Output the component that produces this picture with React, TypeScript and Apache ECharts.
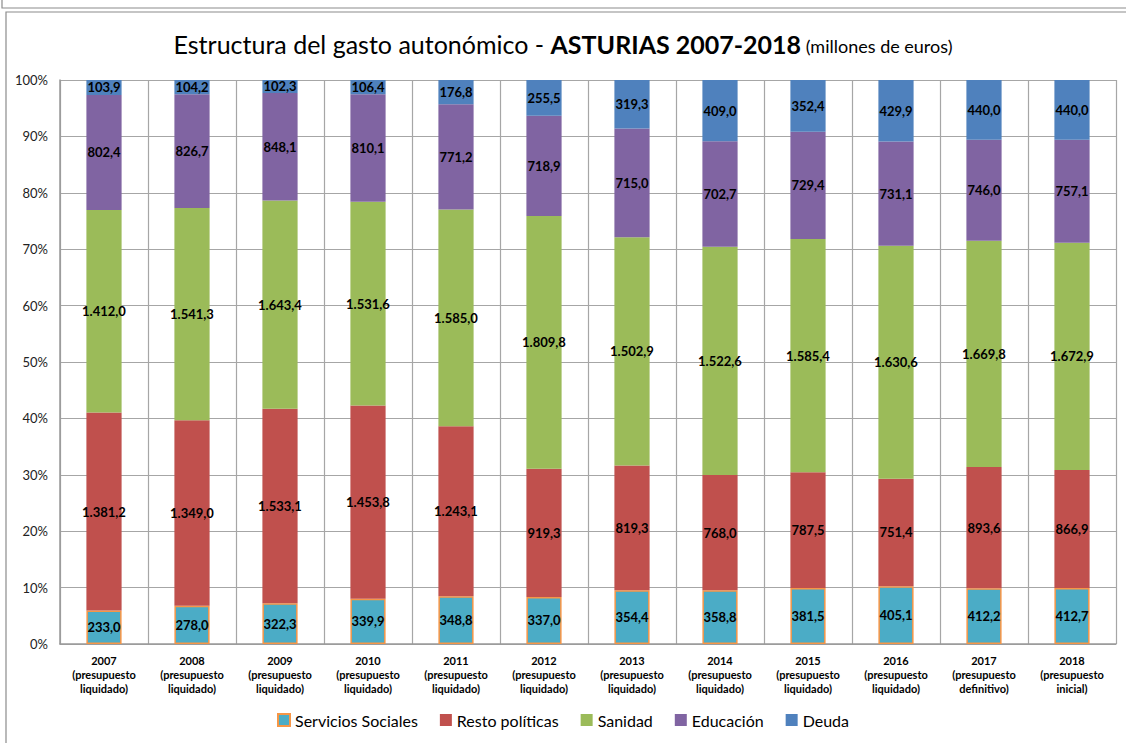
import React, { useEffect, useRef } from "react";
import * as echarts from "echarts";

const categories = [
  "2007\n(presupuesto\nliquidado)",
  "2008\n(presupuesto\nliquidado)",
  "2009\n(presupuesto\nliquidado)",
  "2010\n(presupuesto\nliquidado)",
  "2011\n(presupuesto\nliquidado)",
  "2012\n(presupuesto\nliquidado)",
  "2013\n(presupuesto\nliquidado)",
  "2014\n(presupuesto\nliquidado)",
  "2015\n(presupuesto\nliquidado)",
  "2016\n(presupuesto\nliquidado)",
  "2017\n(presupuesto\ndefinitivo)",
  "2018\n(presupuesto\ninicial)",
];

const serviciosSociales = [233.0, 278.0, 322.3, 339.9, 348.8, 337.0, 354.4, 358.8, 381.5, 405.1, 412.2, 412.7];
const restoPoliticas = [1381.2, 1349.0, 1533.1, 1453.8, 1243.1, 919.3, 819.3, 768.0, 787.5, 751.4, 893.6, 866.9];
const sanidad = [1412.0, 1541.3, 1643.4, 1531.6, 1585.0, 1809.8, 1502.9, 1522.6, 1585.4, 1630.6, 1669.8, 1672.9];
const educacion = [802.4, 826.7, 848.1, 810.1, 771.2, 718.9, 715.0, 702.7, 729.4, 731.1, 746.0, 757.1];
const deuda = [103.9, 104.2, 102.3, 106.4, 176.8, 255.5, 319.3, 409.0, 352.4, 429.9, 440.0, 440.0];

const seriesDefs = [
  { name: "Servicios Sociales", data: serviciosSociales, color: "#4bacc6" },
  { name: "Resto políticas", data: restoPoliticas, color: "#c0504d" },
  { name: "Sanidad", data: sanidad, color: "#9bbb59" },
  { name: "Educación", data: educacion, color: "#8064a2" },
  { name: "Deuda", data: deuda, color: "#4f81bd" },
];

const yTicks = [0, 10, 20, 30, 40, 50, 60, 70, 80, 90, 100];

const FONT = "Lato, 'Open Sans', sans-serif";

function fmt(v: number): string {
  const parts = v.toFixed(1).split(".");
  const intPart = parts[0].replace(/\B(?=(\d{3})+(?!\d))/g, ".");
  return intPart + "," + parts[1];
}

export default function App() {
  const ref = useRef<HTMLDivElement>(null);
  useEffect(() => {
    if (!ref.current) return;
    const chart = echarts.init(ref.current, undefined, { renderer: "svg" });
    const totals = categories.map((_, i) =>
      seriesDefs.reduce((s, d) => s + d.data[i], 0)
    );
    const series = seriesDefs.map((d, si) => ({
      name: d.name,
      type: "bar",
      stack: "total",
      barWidth: "40%",
      data: d.data.map((v, i) => ({ value: (v / totals[i]) * 100, raw: v })),
      itemStyle:
        si === 0
          ? { color: d.color, borderColor: "#f79646", borderWidth: 1.5 }
          : { color: d.color },
      label: {
        show: true,
        position: "inside",
        color: "#000",
        fontFamily: FONT,
        fontWeight: "bold",
        fontSize: 13,
        formatter: (p: any) => fmt(p.data.raw),
      },
    }));

    chart.setOption({
      animation: false,
      textStyle: { fontFamily: FONT },
      title: {
        left: "center",
        top: 26,
        text: "{a|Estructura del gasto autonómico - }{b|ASTURIAS 2007-2018}{c| (millones de euros)}",
        textStyle: {
          rich: {
            a: { fontFamily: FONT, fontSize: 25, color: "#000", fontWeight: "normal" },
            b: { fontFamily: FONT, fontSize: 25, color: "#000", fontWeight: "bold" },
            c: { fontFamily: FONT, fontSize: 18, color: "#000", fontWeight: "normal", padding: [5, 0, 0, 0] },
          },
        },
      },
      legend: {
        bottom: 10,
        left: "center",
        itemWidth: 12,
        itemHeight: 12,
        itemGap: 22,
        icon: "rect",
        textStyle: { fontFamily: FONT, fontSize: 16, color: "#000" },
        data: seriesDefs.map((d) => d.name),
      },
      grid: { left: 60, right: 10, top: 80, bottom: 99 },
      xAxis: {
        type: "category",
        data: categories,
        axisLine: { show: true, lineStyle: { color: "#999", width: 1.5 } },
        axisTick: { show: false },
        splitLine: { show: true, lineStyle: { color: "#a6a6a6", width: 1.2 } },
        axisLabel: {
          interval: 0,
          fontFamily: FONT,
          fontWeight: "bold",
          fontSize: 11,
          color: "#000",
          lineHeight: 14,
          margin: 9,
        },
      },
      yAxis: {
        type: "value",
        min: yTicks[0],
        max: yTicks[yTicks.length - 1],
        interval: 10,
        axisLine: { show: true, lineStyle: { color: "#999", width: 1.5 } },
        axisTick: { show: false },
        splitLine: { show: true, lineStyle: { color: "#a6a6a6", width: 1.2 } },
        axisLabel: {
          formatter: "{value}%",
          fontFamily: FONT,
          fontSize: 13,
          color: "#222",
          margin: 12,
        },
      },
      graphic: [
        {
          type: "rect",
          shape: { x: 2, y: -10, width: 1140, height: 18 },
          style: { fill: "none", stroke: "#8c8c8c", lineWidth: 1.2 },
          silent: true,
        },
        {
          type: "rect",
          shape: { x: 6, y: 12, width: 1140, height: 760 },
          style: { fill: "none", stroke: "#8c8c8c", lineWidth: 1.2 },
          silent: true,
        },
      ],
      series,
    });
    return () => chart.dispose();
  }, []);
  return (
    <div
      ref={ref}
      style={{ position: "fixed", left: 0, top: 0, width: 1126, height: 743, background: "#fff" }}
    />
  );
}
